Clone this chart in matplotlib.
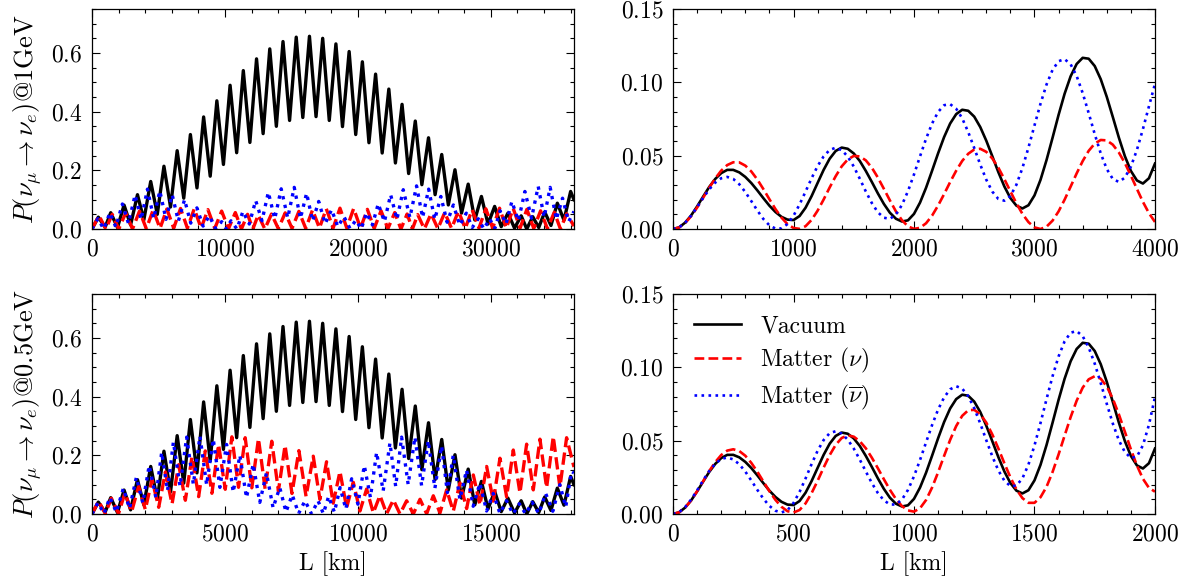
import numpy as np
import matplotlib
matplotlib.use('Agg')
import matplotlib.pyplot as plt
from matplotlib.ticker import MultipleLocator

plt.rcParams['font.family'] = ['cmr10', 'DejaVu Serif']
plt.rcParams['mathtext.fontset'] = 'cm'
plt.rcParams['axes.formatter.use_mathtext'] = True
plt.rcParams['font.size'] = 17

# energies of the two rows (GeV)
E_top = 1.0
E_bot = 0.5

# ---- long baseline panels: extrema of each curve ----
# vacuum only depends on L/E, so one list (km/GeV) serves both rows
black_LE = [0, 473, 985, 1408, 1915, 2410, 2902, 3419, 3898, 4415, 4910, 5410, 5905, 6405,
            6900, 7400, 7895, 8395, 8890, 9390, 9885, 10385, 10880, 11380, 11875, 12375,
            12870, 13370, 13865, 14365, 14860, 15360, 15855, 16355, 16850, 17350, 17845,
            18345, 18840, 19340, 19835, 20335, 20830, 21330, 21825, 22325, 22820, 23320,
            23815, 24315, 24810, 25310, 25805, 26305, 26800, 27300, 27795, 28295, 28790,
            29290, 29785, 30285, 30780, 31280, 31780, 32280, 32700, 33150, 33600, 34050,
            34520, 35000, 35500, 36000, 36250]
black_P = [0, .0405, .006, .0555, .005, .0815, .014, .117, .031, .162, .05, .214, .075, .267,
           .105, .322, .14, .382, .18, .437, .22, .490, .26, .540, .295, .580, .325, .614,
           .35, .639, .37, .654, .38, .657, .383, .650, .37, .631, .349, .605, .322, .570,
           .294, .528, .259, .477, .225, .425, .189, .368, .151, .311, .117, .254, .082,
           .202, .054, .153, .031, .111, .017, .077, .008, .054, .003, .045, .0, .042,
           .005, .058, .012, .088, .03, .128, .10]

red_top_L = [0, 523, 1040, 1520, 2010, 2534, 3046, 3571, 4085, 4600, 5115, 5630, 6145, 6660,
             7175, 7690, 8205, 8720, 9235, 9750, 10265, 10780, 11240, 11700, 12100, 12500,
             13000, 13500, 14015, 14530, 15045, 15560, 16075, 16590, 17105, 17620, 18135,
             18650, 19165, 19680, 20195, 20710, 21225, 21740, 22255, 22770, 23235, 23700,
             24100, 24500, 25000, 25500, 26015, 26530, 27045, 27560, 28075, 28590, 29105,
             29620, 30135, 30650, 31165, 31680, 32195, 32710, 33225, 33740, 34255, 34770,
             35235, 35700, 36250]
red_top_P = [0, .0457, 0, .050, 0, .0548, 0, .0609, .001, .065, .002, .068, .003, .070, .003,
             .069, .003, .066, .002, .061, .001, .056, 0, .050, 0, .048, 0, .051, .001, .055,
             .002, .060, .002, .065, .003, .069, .003, .071, .003, .070, .003, .067, .002,
             .062, .001, .056, 0, .051, 0, .049, 0, .052, .001, .056, .002, .061, .002, .066,
             .003, .069, .003, .071, .003, .070, .003, .067, .002, .062, .001, .057, 0, .052,
             .01]

blue_top_L = [0, 445, 874, 1350, 1787, 2285, 2741, 3239, 3696, 4170, 4640, 5100, 5565, 6030,
              6495, 6960, 7425, 7890, 8355, 8820, 9285, 9750, 10100, 10450, 10900, 11350,
              11830, 12310, 12785, 13260, 13745, 14230, 14720, 15210, 15675, 16140, 16595,
              17050, 17535, 18020, 18485, 18950, 19400, 19850, 20250, 20650, 21090, 21530,
              21995, 22460, 22935, 23410, 23910, 24410, 24865, 25320, 25780, 26240, 26710,
              27180, 27665, 28150, 28600, 29050, 29475, 29900, 30300, 30700, 31140, 31580,
              32070, 32560, 33060, 33560, 34010, 34460, 34925, 35390, 35850, 36250]
blue_top_P = [0, .0355, 0, .0554, .0068, .0853, .0192, .1159, .0321, .136, .036, .130, .033,
              .117, .027, .100, .020, .072, .010, .045, .002, .025, 0, .028, 0, .060, .017,
              .097, .028, .125, .035, .137, .038, .142, .036, .122, .027, .094, .018, .066,
              .008, .042, .002, .030, 0, .055, .014, .086, .025, .117, .033, .134, .039, .147,
              .039, .136, .033, .111, .023, .082, .013, .054, .005, .035, 0, .035, .002, .062,
              .017, .094, .028, .128, .037, .145, .040, .142, .033, .105, .025, .06]

red_bot_L = [0, 248, 499, 727, 997, 1239, 1488, 1751, 2005, 2255, 2508, 2760, 3010, 3260,
             3510, 3760, 4010, 4260, 4510, 4760, 5010, 5260, 5510, 5760, 6010, 6260, 6510,
             6760, 7010, 7260, 7520, 7780, 8050, 8320, 8570, 8820, 9070, 9325, 9575, 9826,
             10077, 10328, 10578, 10829, 11080, 11332, 11582, 11832, 12083, 12335, 12585,
             12835, 13086, 13337, 13587, 13838, 14089, 14340, 14590, 14841, 15091, 15342,
             15592, 15843, 16094, 16345, 16595, 16846, 17096, 17347, 17597, 17848, 18125]
red_bot_P = [0, .0441, .001, .0536, .0016, .0713, .0072, .0939, .015, .117, .0227, .143, .034,
             .168, .0467, .195, .059, .215, .0705, .237, .0841, .263, .0908, .260, .0891, .257,
             .0855, .248, .0788, .234, .0699, .216, .0598, .197, .0497, .178, .0369, .145,
             .0213, .108, .0101, .085, .0038, .063, .0007, .048, 0, .045, .0001, .05, .0007,
             .062, .0034, .082, .0093, .106, .0184, .133, .0303, .162, .0439, .19, .0583,
             .218, .0716, .238, .0821, .255, .0896, .264, .0911, .26, .16]

blue_bot_L = [0, 223, 451, 672, 914, 1177, 1412, 1668, 1910, 2150, 2400, 2620, 2840, 3060,
              3310, 3560, 3810, 4060, 4310, 4560, 4810, 5060, 5310, 5560, 5810, 6060, 6310,
              6560, 6810, 7060, 7295, 7530, 7770, 8010, 8255, 8500, 8700, 8900, 9115, 9330,
              9547, 9764, 10000, 10240, 10470, 10703, 10950, 11204, 11420, 11643, 11890,
              12144, 12395, 12645, 12895, 13147, 13365, 13586, 13835, 14087, 14335, 14588,
              14840, 15089, 15340, 15590, 15830, 16070, 16310, 16550, 16805, 17060, 17330,
              17595, 17815, 18033, 18125]
blue_bot_P = [0, .0385, .001, .0564, .0061, .0871, .0186, .1249, .0378, .165, .0566, .21,
              .0795, .245, .0952, .262, .1013, .265, .0992, .255, .0906, .237, .0742, .20,
              .0553, .17, .0395, .14, .0208, .09, .007, .065, .0016, .045, .0003, .045, .0012,
              .06, .0062, .09, .0166, .12, .0333, .165, .0566, .21, .0786, .242, .0943, .262,
              .1004, .262, .0967, .25, .0876, .232, .0728, .20, .0499, .15, .0263, .105,
              .0102, .07, .002, .045, 0, .035, 0, .04, .0016, .07, .0093, .10, .024, .145,
              .14]

# ---- short baseline panels: sampled every 50 km/GeV ----
LE_grid = np.arange(0, 4001, 50)

black_right = [0, .0011, .0043, .0092, .0154, .0221, .0286, .0341, .0381, .0403,
               .0403, .0386, .0355, .0313, .0263, .0210, .0159, .0116, .0083, .0064,
               .0061, .0088, .0145, .0224, .0314, .0403, .0479, .0532, .0555,
               .0547, .0515, .0464, .0396, .0321, .0243, .0171, .0111, .0070, .0051,
               .0059, .0103, .0180, .0281, .0397, .0516, .0627, .0719, .0783, .0813,
               .0806, .0766, .0695, .0602, .0496, .0388, .0290, .0211, .0159, .0140,
               .0162, .0229, .0335, .0470, .0622, .0778, .0922, .1041, .1125, .1167,
               .1161, .1111, .1021, .0901, .0764, .0624, .0497, .0396, .0331, .0310,
               .0346, .0446]

red_right_top = [0, .0010, .0040, .0087, .0146, .0213, .0281, .0344, .0398, .0436,
                 .0455, .0454, .0432, .0392, .0337, .0272, .0203, .0136, .0078, .0033,
                 .0007, .0001, .0019, .0062, .0125, .0201, .0283, .0360, .0427, .0474,
                 .0498, .0495, .0468, .0418, .0351, .0274, .0195, .0120, .0060, .0018,
                 .0001, .0008, .0039, .0091, .0160, .0238, .0320, .0397, .0464, .0513,
                 .0542, .0547, .0526, .0481, .0418, .0340, .0257, .0175, .0103, .0047,
                 .0011, .0000, .0016, .0057, .0120, .0200, .0289, .0379, .0463, .0533,
                 .0582, .0607, .0604, .0575, .0522, .0450, .0364, .0274, .0185, .0108,
                 .0048]

blue_right_top = [0, .0011, .0042, .0090, .0149, .0212, .0270, .0316, .0346, .0355,
                  .0341, .0305, .0252, .0190, .0126, .0068, .0025, .0003, .0004, .0034,
                  .0090, .0167, .0255, .0346, .0429, .0495, .0539, .0554, .0538, .0494,
                  .0426, .0343, .0256, .0177, .0114, .0077, .0069, .0099, .0164, .0258,
                  .0372, .0495, .0615, .0719, .0798, .0844, .0851, .0820, .0755, .0661,
                  .0552, .0439, .0336, .0255, .0205, .0193, .0225, .0302, .0416, .0555,
                  .0706, .0854, .0985, .1085, .1144, .1158, .1123, .1043, .0927, .0790,
                  .0647, .0515, .0409, .0341, .0321, .0350, .0425, .0539, .0681, .0836,
                  .0989]

red_right_bot = [0, .0011, .0043, .0092, .0155, .0223, .0292, .0353, .0402, .0432,
                 .0441, .0429, .0397, .0348, .0288, .0221, .0155, .0096, .0049, .0019,
                 .0010, .0027, .0072, .0142, .0226, .0316, .0401, .0471, .0518, .0536,
                 .0527, .0496, .0448, .0384, .0312, .0237, .0165, .0102, .0054, .0024,
                 .0016, .0039, .0095, .0180, .0284, .0396, .0505, .0599, .0669, .0707,
                 .0710, .0680, .0623, .0542, .0447, .0346, .0250, .0168, .0108, .0076,
                 .0076, .0114, .0185, .0286, .0406, .0534, .0660, .0772, .0861, .0918,
                 .0939, .0922, .0869, .0786, .0680, .0561, .0441, .0331, .0240, .0178,
                 .0152]

blue_right_bot = [0, .0012, .0046, .0098, .0161, .0229, .0292, .0342, .0375, .0385,
                  .0372, .0339, .0289, .0228, .0164, .0104, .0055, .0022, .0010, .0026,
                  .0075, .0150, .0242, .0340, .0431, .0504, .0551, .0564, .0548, .0507,
                  .0446, .0371, .0290, .0211, .0143, .0093, .0065, .0064, .0098, .0164,
                  .0257, .0368, .0488, .0606, .0712, .0795, .0850, .0871, .0855, .0803,
                  .0721, .0617, .0503, .0393, .0297, .0227, .0190, .0193, .0243, .0337,
                  .0467, .0620, .0783, .0939, .1074, .1177, .1236, .1247, .1212, .1135,
                  .1025, .0892, .0751, .0617, .0503, .0422, .0382, .0391, .0468, .0608,
                  .0797]

labels = ['Vacuum', r'Matter ($\nu$)', r'Matter ($\overline{\nu}$)']


def style(ax, xmax, xmaj, xmin, ymax, ymaj, ymin):
    ax.set_xlim(0, xmax)
    ax.set_ylim(0, ymax)
    ax.xaxis.set_major_locator(MultipleLocator(xmaj))
    ax.xaxis.set_minor_locator(MultipleLocator(xmin))
    ax.yaxis.set_major_locator(MultipleLocator(ymaj))
    ax.yaxis.set_minor_locator(MultipleLocator(ymin))
    ax.tick_params(which='both', direction='in', top=True, right=True, width=0.8)
    ax.tick_params(which='major', length=6, pad=7)
    ax.tick_params(which='minor', length=3.2)
    for s in ax.spines.values():
        s.set_linewidth(0.9)


fig = plt.figure(figsize=(11.95, 5.83), dpi=100)
ax1 = fig.add_axes([0.0770, 0.6072, 0.4033, 0.3774])
ax2 = fig.add_axes([0.5632, 0.6072, 0.4033, 0.3774])
ax3 = fig.add_axes([0.0770, 0.1184, 0.4033, 0.3774])
ax4 = fig.add_axes([0.5632, 0.1184, 0.4033, 0.3774])

lw = 2.4
kw = dict(lw=lw, solid_joinstyle='round', dash_joinstyle='round')
ax1.plot(np.array(black_LE) * E_top, black_P, 'k-', **kw)
ax1.plot(red_top_L, red_top_P, 'r--', **kw)
ax1.plot(blue_top_L, blue_top_P, 'b:', **kw)
style(ax1, 36250, 10000, 2000, 0.75, 0.2, 0.05)
ax1.set_ylabel(r'$P(\nu_\mu \rightarrow \nu_e)$@1GeV', fontsize=19, labelpad=5)

ax3.plot(np.array(black_LE) * E_bot, black_P, 'k-', **kw)
ax3.plot(red_bot_L, red_bot_P, 'r--', **kw)
ax3.plot(blue_bot_L, blue_bot_P, 'b:', **kw)
style(ax3, 18125, 5000, 1000, 0.75, 0.2, 0.05)
ax3.set_ylabel(r'$P(\nu_\mu \rightarrow \nu_e)$@0.5GeV', fontsize=19, labelpad=5)
ax3.set_xlabel('L [km]')

lw2 = 1.9
ax2.plot(LE_grid * E_top, black_right, 'k-', lw=lw2)
ax2.plot(LE_grid * E_top, red_right_top, 'r--', lw=lw2)
ax2.plot(LE_grid * E_top, blue_right_top, 'b:', lw=lw2)
style(ax2, 4000, 1000, 200, 0.15, 0.05, 0.01)

ax4.plot(LE_grid * E_bot, black_right, 'k-', lw=lw2, label=labels[0])
ax4.plot(LE_grid * E_bot, red_right_bot, 'r--', lw=lw2, label=labels[1])
ax4.plot(LE_grid * E_bot, blue_right_bot, 'b:', lw=lw2, label=labels[2])
style(ax4, 2000, 500, 100, 0.15, 0.05, 0.01)
ax4.set_xlabel('L [km]')
ax4.legend(loc='upper left', frameon=False, labelspacing=0.35)

fig.savefig('out.png', dpi=100)
